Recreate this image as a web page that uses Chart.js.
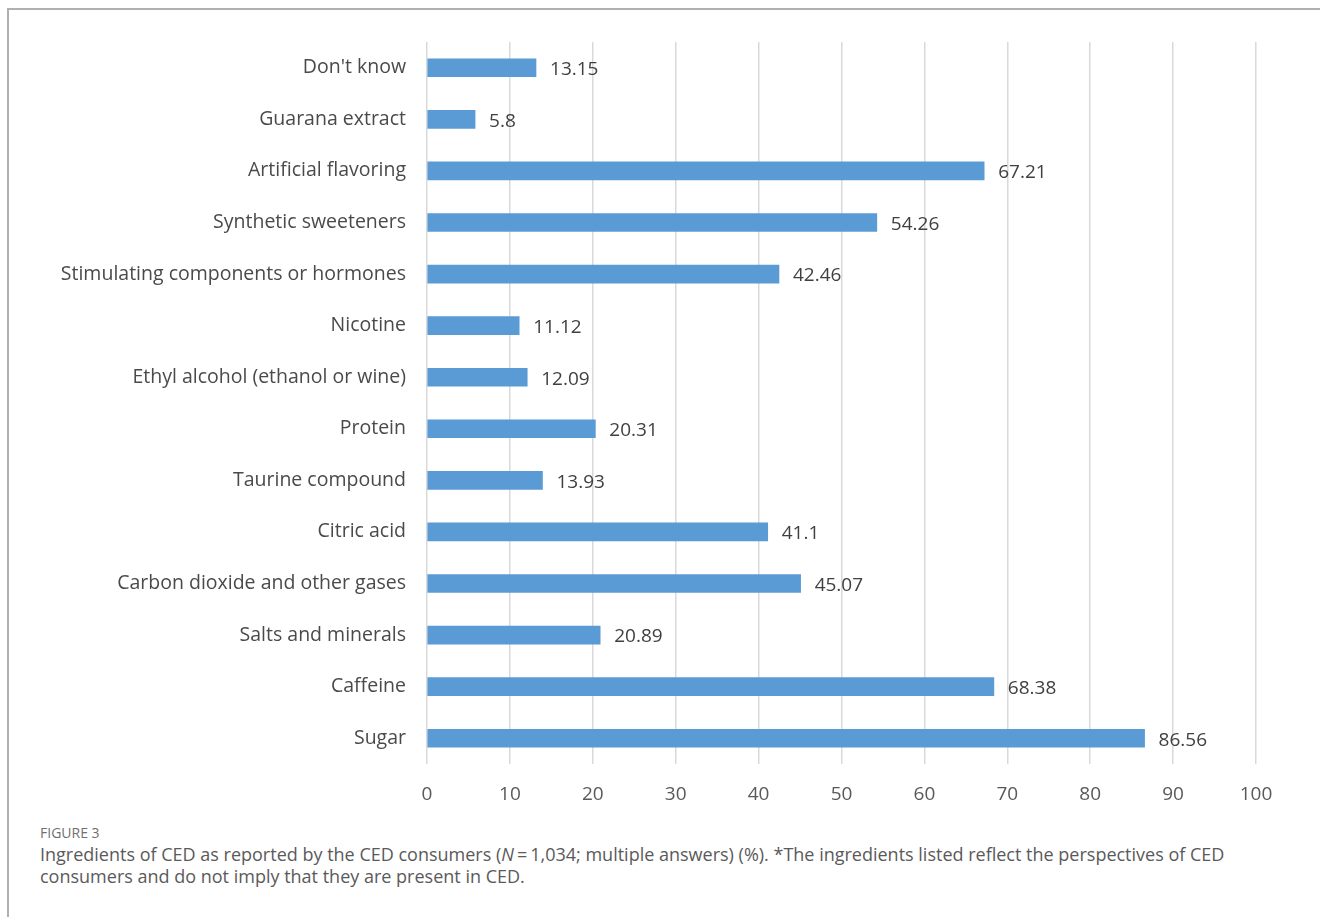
<!DOCTYPE html>
<html>
<head>
<meta charset="utf-8">
<script src="https://cdn.jsdelivr.net/npm/chart.js@4/dist/chart.umd.min.js"></script>
<style>
  body { margin: 0; background: #fff; }
  #frame {
    position: absolute; left: 7px; top: 8px; width: 1320px; height: 920px;
    border-top: 2px solid #b0b0b0; border-left: 2px solid #b0b0b0;
  }
  #wrap { position: absolute; left: 0; top: 0; width: 1320px; height: 820px; }
  #caption {
    position: absolute; left: 40px; top: 823px; width: 1240px;
    font-family: "Open Sans", Lato, sans-serif; color: #666;
  }
  #caption .fig { font-size: 14px; margin-bottom: 1px; color: #707070; }
  #caption .txt { font-size: 18px; line-height: 22px; color: #5a5a5a; }
</style>
</head>
<body>
<div id="frame"></div>
<div id="wrap"><canvas id="chart"></canvas></div>
<div id="caption">
  <div class="fig">FIGURE 3</div>
  <div class="txt">Ingredients of CED as reported by the CED consumers (<i>N</i>&#8201;=&#8201;1,034; multiple answers) (%). *The ingredients listed reflect the perspectives of CED consumers and do not imply that they are present in CED.</div>
</div>
<script>
const categories = [
  "Don't know",
  "Guarana extract",
  "Artificial flavoring",
  "Synthetic sweeteners",
  "Stimulating components or hormones",
  "Nicotine",
  "Ethyl alcohol (ethanol or wine)",
  "Protein",
  "Taurine compound",
  "Citric acid",
  "Carbon dioxide and other gases",
  "Salts and minerals",
  "Caffeine",
  "Sugar",
];
const percentages = [13.15, 5.8, 67.21, 54.26, 42.46, 11.12, 12.09, 20.31, 13.93, 41.1, 45.07, 20.89, 68.38, 86.56];
const xTicks = [0, 10, 20, 30, 40, 50, 60, 70, 80, 90, 100];

const chartFont = "'Open Sans', sans-serif";

// draws the value next to the end of each bar
const valueLabels = {
  id: "valueLabels",
  afterDatasetsDraw(chart) {
    const ctx = chart.ctx;
    const meta = chart.getDatasetMeta(0);
    ctx.save();
    ctx.font = "19px " + chartFont;
    ctx.fillStyle = "#404040";
    ctx.textAlign = "left";
    ctx.textBaseline = "middle";
    meta.data.forEach((bar, i) => {
      ctx.fillText(String(percentages[i]), bar.x + 14, bar.y + 2);
    });
    ctx.restore();
  },
};

new Chart(document.getElementById("chart"), {
  type: "bar",
  data: {
    labels: categories,
    datasets: [
      {
        data: percentages,
        backgroundColor: "#5b9bd5",
        barThickness: 18,
      },
    ],
  },
  options: {
    indexAxis: "y",
    responsive: true,
    maintainAspectRatio: false,
    animation: false,
    layout: { padding: { top: 42, right: 64, left: 0, bottom: 0 } },
    plugins: { legend: { display: false }, tooltip: { enabled: false } },
    scales: {
      x: {
        min: 0,
        max: 100,
        afterBuildTicks: (s) => { s.ticks = xTicks.map((v) => ({ value: v })); },
        afterFit: (s) => { s.height = 56; },
        border: { display: false },
        grid: { color: "#d9d9d9", lineWidth: 1.5, drawTicks: false },
        ticks: { color: "#595959", padding: 19, font: { family: chartFont, size: 19 } },
      },
      y: {
        afterFit: (s) => { s.width = 427; },
        border: { display: false },
        grid: { display: false, drawTicks: false },
        ticks: { color: "#4a4a4a", padding: 21, font: { family: chartFont, size: 19.5 } },
      },
    },
  },
  plugins: [valueLabels],
});
</script>
</body>
</html>
